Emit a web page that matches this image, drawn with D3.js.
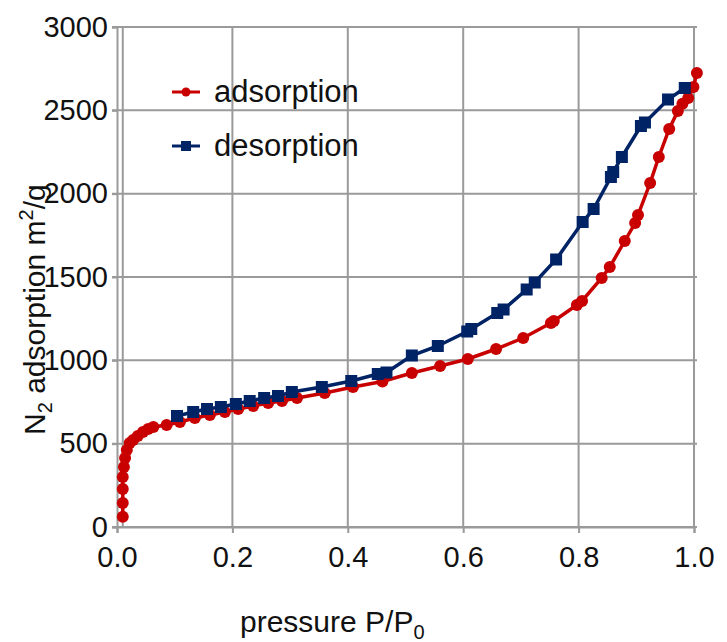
<!DOCTYPE html>
<html>
<head>
  <meta charset="UTF-8">
  <script src="https://cdn.jsdelivr.net/npm/d3@7"></script>
  <style>
      body { margin: 0; background: #fff; }
      text { font-family: "Liberation Sans", Arial, sans-serif; fill: #111; }
  </style>
</head>
<body>
<svg id="chart" width="727" height="642"></svg>
<script>
  // adsorption branch [P/P0, amount]
  var adsorption = [
    [0.010, 62], [0.010, 144], [0.010, 228], [0.010, 300], [0.012, 360],
    [0.014, 414], [0.017, 462], [0.022, 504], [0.028, 522], [0.036, 546],
    [0.045, 570], [0.054, 588], [0.063, 600], [0.086, 612], [0.109, 630],
    [0.135, 654], [0.161, 672], [0.187, 690], [0.210, 708], [0.236, 726],
    [0.262, 744], [0.286, 756], [0.312, 774], [0.360, 804], [0.409, 840],
    [0.460, 873], [0.511, 924], [0.560, 966], [0.608, 1008], [0.657, 1068],
    [0.704, 1134], [0.752, 1224], [0.757, 1236], [0.797, 1332], [0.806, 1356],
    [0.840, 1494], [0.854, 1560], [0.880, 1716], [0.898, 1824], [0.903, 1872],
    [0.924, 2064], [0.939, 2220], [0.957, 2388], [0.972, 2496], [0.980, 2540],
    [0.990, 2574], [0.999, 2640], [1.005, 2724]
  ];

  // desorption branch [P/P0, amount]
  var desorption = [
    [0.984, 2634], [0.955, 2565], [0.915, 2427], [0.908, 2406], [0.875, 2220],
    [0.860, 2130], [0.856, 2100], [0.826, 1908], [0.807, 1830], [0.761, 1605],
    [0.724, 1467], [0.710, 1425], [0.670, 1305], [0.659, 1284], [0.614, 1188],
    [0.607, 1173], [0.556, 1086], [0.511, 1029], [0.467, 927], [0.452, 918],
    [0.406, 876], [0.355, 840], [0.303, 810], [0.279, 786], [0.255, 774],
    [0.230, 756], [0.206, 738], [0.180, 720], [0.156, 708], [0.132, 690],
    [0.104, 666]
  ];

  var xTicks = [0, 0.2, 0.4, 0.6, 0.8, 1.0];
  var xGrid = [0.01, 0.2, 0.4, 0.6, 0.8, 1.0];
  var yTicks = [0, 500, 1000, 1500, 2000, 2500, 3000];

  var red = "#c80000", blue = "#002366", grid = "#9a9a9a";

  var margin = {top: 27, left: 117},
      width = 577, height = 500;

  var svg = d3.select("#chart");
  var g = svg.append("g").attr("transform", "translate(" + margin.left + "," + margin.top + ")");

  var x = d3.scaleLinear().domain([0, 1]).range([0, width]);
  var y = d3.scaleLinear().domain([0, 3000]).range([height, 0]);

  // grid lines
  g.selectAll(".hgrid").data(yTicks).enter().append("line")
    .attr("x1", -5).attr("x2", width + 3)
    .attr("y1", d => y(d)).attr("y2", d => y(d))
    .attr("stroke", grid).attr("stroke-width", 2);
  g.selectAll(".vgrid").data(xGrid).enter().append("line")
    .attr("x1", d => x(d)).attr("x2", d => x(d))
    .attr("y1", 0).attr("y2", height)
    .attr("stroke", grid).attr("stroke-width", 2);

  // axes
  var xAxis = g.append("g").attr("transform", "translate(0," + height + ")")
    .call(d3.axisBottom(x).tickValues(xTicks).tickFormat(d3.format(".1f")).tickSize(6).tickPadding(8));
  var yAxis = g.append("g")
    .call(d3.axisLeft(y).tickValues(yTicks).tickFormat(d3.format("d")).tickSize(5).tickPadding(4));
  [xAxis, yAxis].forEach(function(a) {
    a.select(".domain").attr("stroke", grid).attr("stroke-width", 2);
    a.selectAll(".tick line").attr("stroke", grid).attr("stroke-width", 2);
    a.selectAll(".tick text").style("font-size", "29px").attr("fill", "#111");
  });
  xAxis.selectAll(".tick text").attr("dy", "0.9em");

  var line = d3.line().x(d => x(d[0])).y(d => y(d[1]));

  // adsorption
  g.append("path").datum(adsorption).attr("d", line)
    .attr("fill", "none").attr("stroke", red).attr("stroke-width", 3.5);
  g.selectAll(".ads").data(adsorption).enter().append("circle")
    .attr("cx", d => x(d[0])).attr("cy", d => y(d[1])).attr("r", 6)
    .attr("fill", red);

  // desorption
  g.append("path").datum(desorption).attr("d", line)
    .attr("fill", "none").attr("stroke", blue).attr("stroke-width", 3.5);
  g.selectAll(".des").data(desorption).enter().append("rect")
    .attr("x", d => x(d[0]) - 6).attr("y", d => y(d[1]) - 6)
    .attr("width", 12).attr("height", 12)
    .attr("fill", blue);

  // legend
  var legend = svg.append("g");
  var items = [
    {name: "adsorption", color: red, shape: "circle", y: 92},
    {name: "desorption", color: blue, shape: "square", y: 146}
  ];
  items.forEach(function(it) {
    legend.append("line").attr("x1", 172).attr("x2", 200)
      .attr("y1", it.y).attr("y2", it.y)
      .attr("stroke", it.color).attr("stroke-width", 3);
    if (it.shape === "circle") {
      legend.append("circle").attr("cx", 186).attr("cy", it.y).attr("r", 4.5).attr("fill", it.color);
    } else {
      legend.append("rect").attr("x", 181).attr("y", it.y - 5).attr("width", 10).attr("height", 10).attr("fill", it.color);
    }
    legend.append("text").attr("x", 214).attr("y", it.y + 10)
      .style("font-size", "31px").text(it.name);
  });

  // axis titles
  var xt = svg.append("text").attr("x", 240).attr("y", 632).style("font-size", "30px");
  xt.append("tspan").text("pressure P/P");
  xt.append("tspan").attr("dy", 7).style("font-size", "20px").text("0");

  var yt = svg.append("text")
    .attr("transform", "translate(45,435) rotate(-90)")
    .style("font-size", "30px");
  yt.append("tspan").text("N");
  yt.append("tspan").attr("dy", 7).style("font-size", "20px").text("2");
  yt.append("tspan").attr("dy", -7).text(" adsorption m");
  yt.append("tspan").attr("dy", -12).style("font-size", "20px").text("2");
  yt.append("tspan").attr("dy", 12).text("/g");
</script>
</body>
</html>
